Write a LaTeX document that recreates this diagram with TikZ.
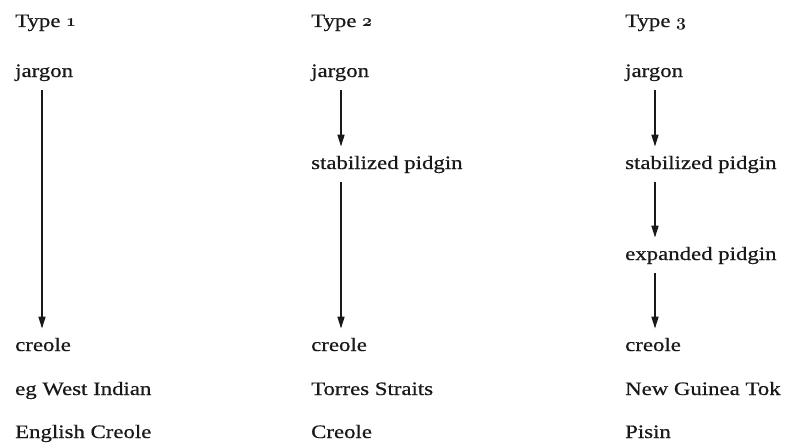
\documentclass[tikz,border=0pt]{standalone}
\usepackage{fontspec}
\setmainfont{Liberation Serif}[FakeStretch=1.2,FakeBold=0.6]
\usetikzlibrary{arrows.meta}
\newcommand{\osn}[1]{{\usefont{OML}{cmm}{b}{it}#1}}
\begin{document}
\begin{tikzpicture}[x=1pt,y=-1pt,
  lbl/.style={anchor=base west,inner sep=0pt,font=\fontsize{19}{22}\selectfont,text=black!90},
  arr/.style={-{Triangle[length=12pt,width=7pt]},line width=1.6pt,black!90,shorten <=9pt,shorten >=9pt}]
\useasboundingbox (0,0) rectangle (790,447);
% column reference points
\coordinate (c1) at (42,0);
\coordinate (c2) at (341,0);
\coordinate (c3) at (655,0);
% Type 1
\node[lbl] (t1) at (15,27) {Type \osn{1}};
\node[lbl] (j1) at (15,77) {jargon};
\node[lbl] (cr1) at (15,351) {creole};
\node[lbl] (e1) at (15,395) {eg West Indian};
\node[lbl] (f1) at (15,438) {English Creole};
% Type 2
\node[lbl] (t2) at (311,27) {Type \osn{2}};
\node[lbl] (j2) at (311,77) {jargon};
\node[lbl] (s2) at (311,169) {stabilized pidgin};
\node[lbl] (cr2) at (311,351) {creole};
\node[lbl] (e2) at (311,395) {Torres Straits};
\node[lbl] (f2) at (311,438) {Creole};
% Type 3
\node[lbl] (t3) at (625,27) {Type \osn{3}};
\node[lbl] (j3) at (625,77) {jargon};
\node[lbl] (s3) at (625,169) {stabilized pidgin};
\node[lbl] (x3) at (625,260) {expanded pidgin};
\node[lbl] (cr3) at (625,351) {creole};
\node[lbl] (e3) at (625,395) {New Guinea Tok};
\node[lbl] (f3) at (625,438) {Pisin};
% arrows
\draw[arr] (j1.south -| c1) -- (cr1.north -| c1);
\draw[arr] (j2.south -| c2) -- (s2.north -| c2);
\draw[arr] (s2.south -| c2) -- (cr2.north -| c2);
\draw[arr] (j3.south -| c3) -- (s3.north -| c3);
\draw[arr] (s3.south -| c3) -- (x3.north -| c3);
\draw[arr] (x3.south -| c3) -- (cr3.north -| c3);
\end{tikzpicture}
\end{document}
